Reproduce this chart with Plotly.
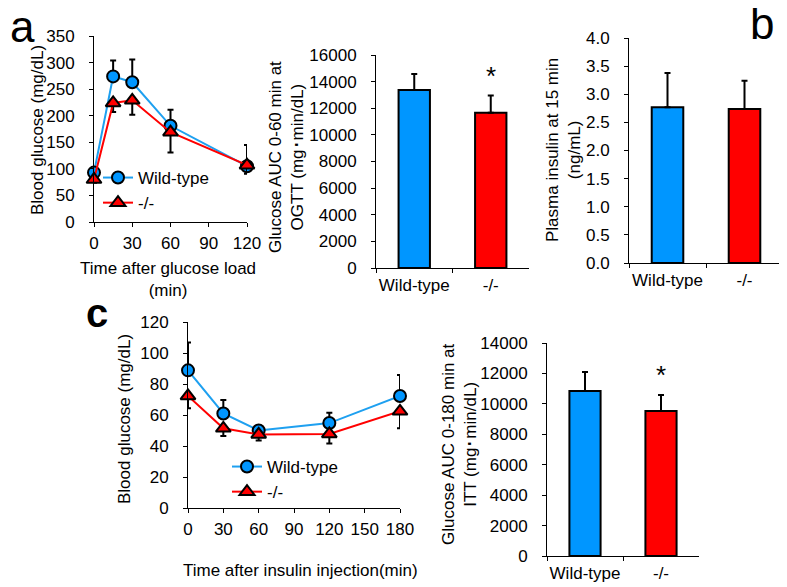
# -*- coding: utf-8 -*-
"""OGTT / ITT 血糖曲线 + AUC 柱状图 + 胰岛素柱状图."""

import plotly.graph_objects as go

# ---- data ----
groups = ["Wild-type", "-/-"]

ogtt_time = [0, 15, 30, 60, 120]
ogtt_wt = [93, 274, 263, 181, 105]
ogtt_wt_err = [8, 30, 43, 30, 40]
ogtt_ko = [80, 224, 229, 169, 107]
ogtt_ko_err = [6, 17, 27, 38, 16]

ogtt_auc = [13370, 11670]
ogtt_auc_err = [1200, 1280]

insulin_15 = [2.77, 2.74]
insulin_15_err = [0.61, 0.50]

itt_time = [0, 30, 60, 120, 180]
itt_wt = [88.8, 61, 50, 54.8, 72.3]
itt_wt_err = [18, 8.7, 3, 6.7, 13.5]
itt_ko = [72.3, 51.4, 47.5, 47.8, 62.4]
itt_ko_err = [8, 5, 4, 6.2, 11]

itt_auc = [10845, 9530]
itt_auc_err = [1250, 1050]

# page body keeps its default 8px margin, so the figure is drawn 8px in
OFF = 8
W, H = 787 - OFF, 587 - OFF
BLUE = "#0096ff"
LINE_BLUE = "#1ea0f0"
RED = "#ff0000"
FONT = "Arial, Liberation Sans, sans-serif"


def px_x(p):
    return (p - OFF) / W


def px_y(p):
    return 1 - (p - OFF) / H


def dom_x(a, b):
    return [px_x(a), px_x(b)]


def dom_y(top, bottom):
    return [px_y(bottom), px_y(top)]


axis_style = dict(
    showline=True,
    linecolor="black",
    linewidth=1,
    ticks="outside",
    ticklen=4,
    tickcolor="black",
    tickwidth=1,
    showgrid=False,
    zeroline=False,
    automargin=False,
    tickfont=dict(size=17, color="black", family=FONT),
)
x_style = dict(axis_style, ticklabelstandoff=2, tickangle=0)
y_style = dict(axis_style, ticklabelstandoff=11)

fig = go.Figure()


def add_curves(x, wt, wt_err, ko, ko_err, xa, ya, legend):
    fig.add_trace(
        go.Scatter(
            x=x, y=wt, name="Wild-type", mode="lines+markers",
            line=dict(color=LINE_BLUE, width=2),
            marker=dict(symbol="circle", size=12, color=BLUE,
                        line=dict(color="black", width=2)),
            error_y=dict(type="data", symmetric=False, array=wt_err,
                         arrayminus=[0] * len(wt_err), color="black",
                         thickness=2, width=3),
            xaxis=xa, yaxis=ya, legend=legend, cliponaxis=False,
        )
    )
    fig.add_trace(
        go.Scatter(
            x=x, y=ko, name="-/-", mode="lines+markers",
            line=dict(color=RED, width=2),
            marker=dict(symbol="triangle-up", size=13, color=RED,
                        line=dict(color="black", width=2)),
            error_y=dict(type="data", symmetric=False, array=[0] * len(ko_err),
                         arrayminus=ko_err, color="black", thickness=2, width=3),
            xaxis=xa, yaxis=ya, legend=legend, cliponaxis=False,
        )
    )


def add_bars(vals, errs, xa, ya):
    fig.add_trace(
        go.Bar(
            x=groups, y=vals, width=0.41,
            marker=dict(color=[BLUE, RED], line=dict(color="black", width=2)),
            error_y=dict(type="data", symmetric=False, array=errs,
                         arrayminus=[0, 0], color="black", thickness=2, width=3),
            xaxis=xa, yaxis=ya, showlegend=False,
        )
    )


add_curves(ogtt_time, ogtt_wt, ogtt_wt_err, ogtt_ko, ogtt_ko_err, "x", "y", "legend")
add_bars(ogtt_auc, ogtt_auc_err, "x2", "y2")
add_bars(insulin_15, insulin_15_err, "x3", "y3")
add_curves(itt_time, itt_wt, itt_wt_err, itt_ko, itt_ko_err, "x4", "y4", "legend2")
add_bars(itt_auc, itt_auc_err, "x5", "y5")

bar_x = dict(x_style, type="category", range=[-0.5, 1.5], tickson="boundaries")

fig.update_layout(
    width=W, height=H,
    margin=dict(l=0, r=0, t=0, b=0, pad=0, autoexpand=False),
    paper_bgcolor="white", plot_bgcolor="white",
    font=dict(family=FONT, size=17, color="black"),
    xaxis=dict(x_style, domain=dom_x(94, 247), range=[0, 120], dtick=30, anchor="y"),
    yaxis=dict(y_style, domain=dom_y(36, 222), range=[0, 350], dtick=50, anchor="x"),
    xaxis2=dict(bar_x, domain=dom_x(376, 529), anchor="y2"),
    yaxis2=dict(y_style, domain=dom_y(55, 268), range=[0, 16000], dtick=2000,
                tickformat="d", anchor="x2"),
    xaxis3=dict(bar_x, domain=dom_x(629, 783), anchor="y3"),
    yaxis3=dict(y_style, domain=dom_y(38, 263), range=[0, 4], dtick=0.5,
                tickformat=".1f", anchor="x3"),
    xaxis4=dict(x_style, domain=dom_x(188, 400), range=[0, 180], dtick=30, anchor="y4"),
    yaxis4=dict(y_style, domain=dom_y(322, 508), range=[0, 120], dtick=20, anchor="x4"),
    xaxis5=dict(bar_x, domain=dom_x(547, 699), anchor="y5"),
    yaxis5=dict(y_style, domain=dom_y(343, 556), range=[0, 14000], dtick=2000,
                tickformat="d", anchor="x5"),
    legend=dict(x=px_x(98), y=px_y(160), xanchor="left", yanchor="top",
                bgcolor="rgba(0,0,0,0)", font=dict(size=17), itemwidth=30,
                tracegroupgap=0),
    legend2=dict(x=px_x(227), y=px_y(449), xanchor="left", yanchor="top",
                 bgcolor="rgba(0,0,0,0)", font=dict(size=17), itemwidth=30,
                 tracegroupgap=0),
)

# axis titles and panel letters
notes = [
    ("Blood glucose (mg/dL)", 37, 130, -90),
    ("Time after glucose load<br>(min)", 168, 279, 0),
    ("Glucose AUC 0-60 min at<br>OGTT (mg･min/dL)", 287, 157, -90),
    ("Plasma insulin at 15 min<br>(ng/mL)", 563, 150, -90),
    ("Blood glucose (mg/dL)", 124, 419, -90),
    ("Time after insulin injection(min)", 300, 570, 0),
    ("Glucose AUC 0-180 min at<br>ITT (mg･min/dL)", 459, 444, -90),
]
for text, x, y, ang in notes:
    fig.add_annotation(text=text, x=px_x(x), y=px_y(y), xref="paper", yref="paper",
                       showarrow=False, textangle=ang, xanchor="center",
                       yanchor="middle", font=dict(size=17, family=FONT))

for letter, x, y, size in [("a", 8, 27, 44), ("b", 748, 24, 44), ("<b>c</b>", 84, 313, 40)]:
    fig.add_annotation(text=letter, x=px_x(x), y=px_y(y), xref="paper", yref="paper",
                       showarrow=False, xanchor="left", yanchor="middle",
                       font=dict(size=size, family=FONT))

# significance marks above the knockout error bars
for xa, ya, v, e in [("x2", "y2", ogtt_auc, ogtt_auc_err),
                     ("x5", "y5", itt_auc, itt_auc_err)]:
    fig.add_annotation(text="*", x="-/-", y=v[1] + e[1], xref=xa, yref=ya,
                       showarrow=False, yanchor="middle", yshift=20,
                       font=dict(size=26, family=FONT))

fig.write_html("out.html")
